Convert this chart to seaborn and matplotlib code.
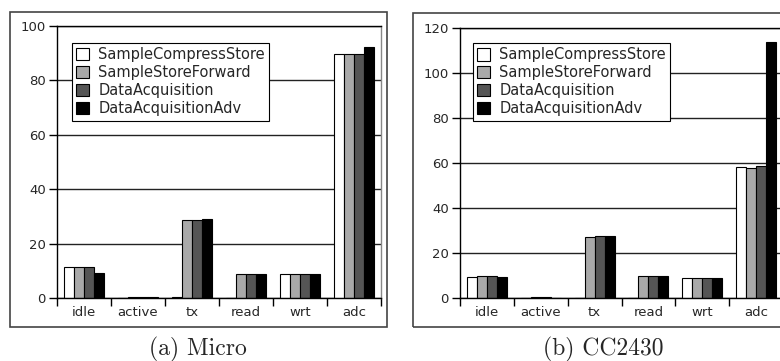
import matplotlib
matplotlib.use("Agg")
import matplotlib.pyplot as plt
import seaborn as sns
import pandas as pd
import numpy as np
from matplotlib.patches import Rectangle

categories = ['idle', 'active', 'tx', 'read', 'wrt', 'adc']
series = ['SampleCompressStore', 'SampleStoreForward', 'DataAcquisition', 'DataAcquisitionAdv']
colors = ['#ffffff', '#a9a9a9', '#555555', '#000000']

micro_scs = [11.3, 0.0, 0.2, 0.1, 9.0, 89.6]
micro_ssf = [11.5, 0.2, 28.7, 8.7, 9.0, 89.6]
micro_da = [11.5, 0.3, 28.6, 8.7, 9.0, 89.6]
micro_daa = [9.3, 0.4, 29.0, 8.7, 9.0, 92.4]

cc_scs = [9.2, 0.0, 0.2, 0.2, 9.0, 58.4]
cc_ssf = [9.6, 0.3, 27.1, 9.6, 9.0, 57.9]
cc_da = [9.6, 0.4, 27.4, 9.6, 9.0, 58.6]
cc_daa = [9.3, 0.1, 27.7, 9.7, 8.9, 114.0]

micro_ticks = [0, 20, 40, 60, 80, 100]
cc_ticks = [0, 20, 40, 60, 80, 100, 120]


def long_df(vals):
    rows = []
    for s, v in zip(series, vals):
        for c, y in zip(categories, v):
            rows.append({'cat': c, 'series': s, 'value': y})
    return pd.DataFrame(rows)


sns.set_style("white")
plt.rcParams['font.family'] = ['DejaVu Sans']

fig = plt.figure(figsize=(7.8, 3.61), dpi=100)

# outer frames
fig.patches.append(Rectangle((10 / 780, 1 - 327 / 361), 377 / 780, 315 / 361,
                             transform=fig.transFigure, fill=False,
                             edgecolor='#444444', lw=1.2, zorder=0))
fig.patches.append(Rectangle((413 / 780, 1 - 327 / 361), 380 / 780, 314 / 361,
                             transform=fig.transFigure, fill=False,
                             edgecolor='#444444', lw=1.2, zorder=0))

ax1 = fig.add_axes([57 / 780, 1 - 298 / 361, 324 / 780, 272 / 361])
ax2 = fig.add_axes([460 / 780, 1 - 298 / 361, 323 / 780, 270 / 361])

panels = [
    (ax1, [micro_scs, micro_ssf, micro_da, micro_daa], micro_ticks, (0.046, 0.9375)),
    (ax2, [cc_scs, cc_ssf, cc_da, cc_daa], cc_ticks, (0.040, 0.944)),
]

for ax, vals, yt, lpos in panels:
    df = long_df(vals)
    sns.barplot(data=df, x='cat', y='value', hue='series', order=categories,
                hue_order=series, palette=colors, saturation=1, width=0.74,
                edgecolor='black', linewidth=0.8, ax=ax, errorbar=None)
    ax.set_xlim(-0.5, len(categories) - 0.5)
    ax.set_ylim(yt[0], yt[-1])
    ax.set_yticks(yt)
    ax.set_xlabel('')
    ax.set_ylabel('')
    ax.set_axisbelow(True)
    ax.yaxis.grid(True, color='#222222', lw=1.0)
    ax.xaxis.grid(False)
    ax.set_xticks(np.arange(-0.5, len(categories)), minor=True)
    ax.tick_params(axis='x', which='major', length=0, labelsize=9.5, pad=6)
    ax.tick_params(axis='x', which='minor', length=6, width=1, direction='out', color='black')
    ax.tick_params(axis='y', which='major', length=6, width=1, direction='out',
                   labelsize=9.5, color='black', pad=2)
    ax.xaxis.set_ticks_position('bottom')
    ax.yaxis.set_ticks_position('left')
    for side in ['left', 'top', 'bottom']:
        ax.spines[side].set_color('black')
        ax.spines[side].set_linewidth(1.0)
        ax.spines[side].set_visible(True)
    ax.spines['right'].set_color('#888888')
    ax.spines['right'].set_linewidth(1.0)
    ax.spines['right'].set_visible(True)
    h, l = ax.get_legend_handles_labels()
    leg = ax.legend(h, l, loc='upper left', bbox_to_anchor=lpos, borderaxespad=0,
                    fontsize=10.5, frameon=True, fancybox=False, framealpha=1,
                    edgecolor='black', handlelength=0.9, handleheight=0.9,
                    handletextpad=0.6, labelspacing=0.2, borderpad=0.3)
    leg.get_frame().set_linewidth(0.8)
    for p in leg.get_patches():
        p.set_edgecolor('black')
        p.set_linewidth(0.8)

fig.text(198 / 780, 1 - 349 / 361, '(a) Micro', fontfamily='cmr10', fontsize=17,
         ha='center', va='center')
fig.text(603 / 780, 1 - 349 / 361, '(b) CC2430', fontfamily='cmr10', fontsize=17,
         ha='center', va='center')

fig.savefig('out.png', dpi=100)
